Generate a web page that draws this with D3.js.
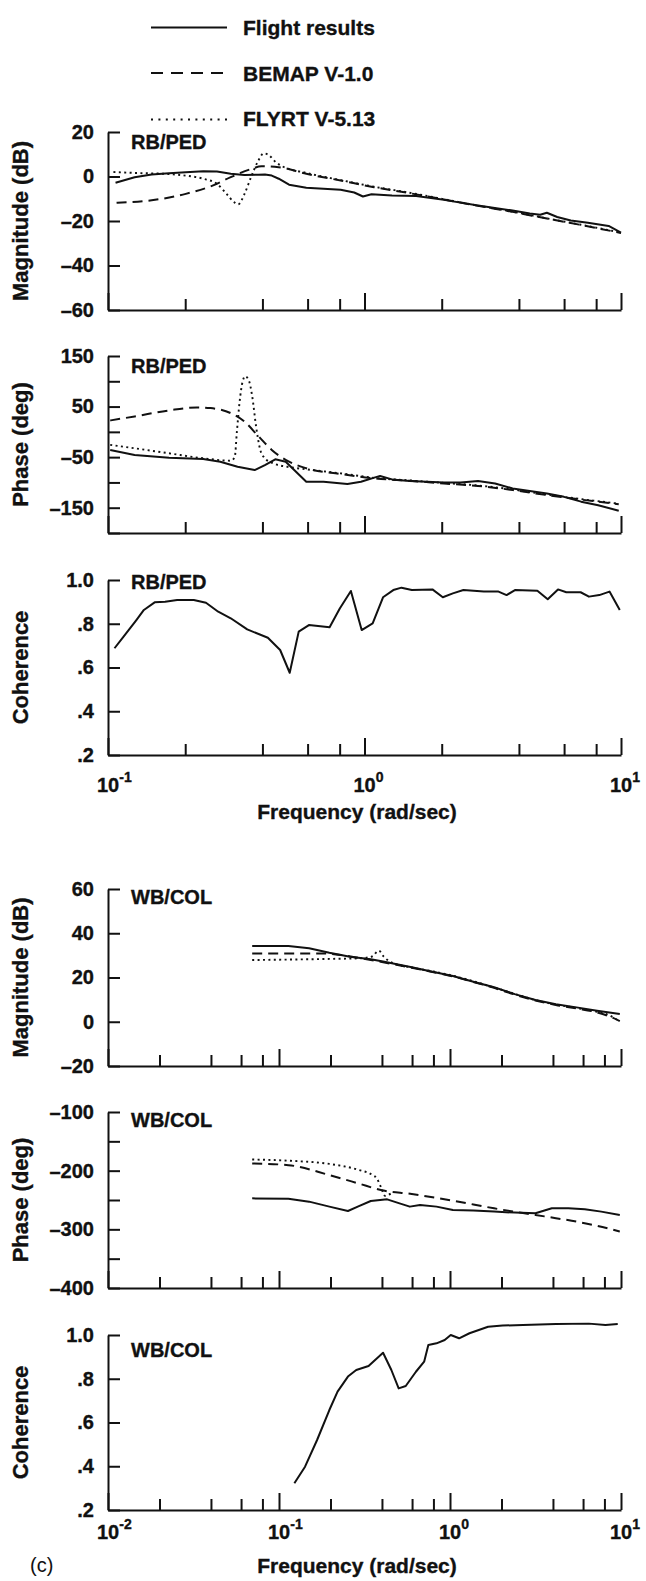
<!DOCTYPE html>
<html>
<head>
<meta charset="utf-8">
<script src="https://cdn.jsdelivr.net/npm/d3@7"></script>
<style>
  html, body { margin: 0; padding: 0; background: #fff; }
  svg { display: block; }
</style>
</head>
<body>
<svg id="chart" width="646" height="1581"></svg>
<script>
// ---------- frequency ranges (rad/sec) ----------
const topFreqDomain = [0.1, 10];
const bottomFreqDomain = [0.01, 10];

// ---------- legend ----------
const seriesNames = ["Flight results", "BEMAP V-1.0", "FLYRT V-5.13"];

// ---------- RB/PED : magnitude (dB) ----------
const rbMagFlight = [[0.107,-2.8],[0.127,-0.3],[0.148,0.9],[0.173,1.5],[0.201,1.9],[0.235,2.4],[0.266,2.2],[0.301,1.2],[0.340,0.7],[0.385,0.8],[0.409,0.9],[0.435,0.4],[0.463,-1.0],[0.508,-3.7],[0.593,-5.1],[0.692,-5.5],[0.807,-6.0],[0.912,-7.2],[0.986,-9.0],[1.065,-8.0],[1.28,-8.5],[1.59,-8.8],[2.04,-10.5],[2.77,-13.0],[3.78,-15.3],[4.41,-16.6],[4.84,-17.2],[5.14,-16.3],[5.64,-18.2],[6.37,-19.8],[7.43,-20.8],[8.95,-22.2],[10,-25.2]];
const rbMagBemap = [[0.108,-11.8],[0.148,-10.7],[0.201,-7.8],[0.257,-4.0],[0.301,-0.3],[0.362,3.4],[0.397,4.6],[0.463,4.2],[0.593,1.2],[0.807,-1.8],[1.09,-4.8],[1.50,-7.5],[2.04,-10.3],[2.77,-13.2],[3.78,-15.9],[5.14,-18.9],[6.99,-21.8],[10,-25.4]];
const rbMagFlyrt = [[0.105,2.0],[0.127,1.6],[0.173,1.1],[0.201,0.4],[0.235,-1.0],[0.266,-3.3],[0.290,-7.8],[0.310,-11.5],[0.322,-12.5],[0.340,-8.0],[0.362,0.0],[0.385,7.0],[0.405,10.4],[0.425,9.5],[0.450,6.5],[0.480,4.5],[0.593,1.6],[0.807,-1.6],[1.09,-4.6],[1.50,-7.3],[2.04,-10.2],[2.77,-13.1],[3.78,-15.8],[5.14,-18.8],[6.99,-21.7],[10,-25.2]];

// ---------- RB/PED : phase (deg) ----------
const rbPhaseFlight = [[0.102,-35.8],[0.127,-45.7],[0.173,-51],[0.235,-53.6],[0.274,-59],[0.320,-69],[0.373,-75.5],[0.409,-65.6],[0.449,-54.3],[0.493,-59],[0.593,-98.7],[0.692,-98.7],[0.858,-103],[0.969,-98.7],[1.10,-90],[1.15,-87.4],[1.28,-94],[1.50,-97.4],[2.04,-100],[2.37,-100],[2.77,-97.4],[3.23,-102],[3.78,-112],[5.14,-122],[5.99,-128.5],[6.99,-138],[8.15,-145],[9.8,-156]];
const rbPhaseBemap = [[0.102,22.5],[0.127,30.5],[0.173,42.4],[0.222,48.3],[0.251,47],[0.301,37],[0.340,20.5],[0.385,-8],[0.435,-35.8],[0.508,-59],[0.593,-72],[0.807,-83.4],[1.09,-92],[1.50,-96.7],[2.04,-102],[2.77,-107],[3.78,-115],[5.14,-125],[6.99,-134],[9.8,-143]];
const rbPhaseFlyrt = [[0.102,-25.8],[0.127,-32.5],[0.173,-42.4],[0.235,-52.3],[0.301,-57],[0.312,-50],[0.318,0],[0.326,60],[0.335,100],[0.343,110],[0.355,100],[0.365,70],[0.378,10],[0.392,-35],[0.405,-50],[0.44,-62],[0.50,-69],[0.593,-74],[0.807,-82],[1.09,-91],[1.50,-96],[2.04,-101],[2.77,-106],[3.78,-114],[5.14,-124],[6.99,-133],[9.8,-142]];

// ---------- RB/PED : coherence ----------
const rbCohFlight = [[0.106,0.688],[0.115,0.741],[0.129,0.817],[0.138,0.863],[0.152,0.898],[0.167,0.901],[0.186,0.909],[0.216,0.909],[0.241,0.896],[0.269,0.855],[0.301,0.825],[0.349,0.774],[0.420,0.736],[0.469,0.680],[0.511,0.576],[0.554,0.764],[0.607,0.794],[0.731,0.784],[0.801,0.870],[0.885,0.950],[0.975,0.771],[1.076,0.802],[1.181,0.921],[1.295,0.954],[1.394,0.965],[1.530,0.954],[1.84,0.957],[2.02,0.921],[2.21,0.939],[2.43,0.954],[2.92,0.947],[3.33,0.947],[3.58,0.931],[3.86,0.954],[4.72,0.951],[5.18,0.912],[5.68,0.957],[6.12,0.944],[6.96,0.944],[7.50,0.924],[8.23,0.931],[9.02,0.947],[9.89,0.863]];

// ---------- WB/COL : magnitude (dB) ----------
const wbMagFlight = [[0.0697,34.2],[0.1135,34.2],[0.150,33.2],[0.197,31.2],[0.26,29.4],[0.344,28.2],[0.406,27.2],[0.598,24.6],[0.789,22.6],[1.04,20.7],[1.37,18.1],[1.81,15.6],[2.39,12.5],[3.16,9.8],[4.16,7.9],[5.49,6.5],[7.25,5.0],[9.84,3.5]];
const wbMagBemap = [[0.0697,30.9],[0.1135,30.9],[0.177,30.9],[0.23,30.2],[0.30,28.7],[0.40,27.0],[0.598,24.4],[0.789,22.5],[1.04,20.5],[1.37,18.0],[1.81,15.3],[2.39,12.3],[3.16,9.6],[4.16,7.6],[5.49,6.0],[7.25,4.2],[8.5,2.5],[9.84,0.3]];
const wbMagFlyrt = [[0.0697,27.9],[0.197,28.4],[0.30,28.7],[0.35,29.5],[0.384,32.1],[0.41,29.4],[0.45,27.0],[0.598,24.5],[0.789,22.8],[1.04,20.8],[1.37,18.3],[1.81,15.5],[2.39,12.6],[3.16,9.8],[4.16,7.8],[5.49,6.2],[7.25,4.5],[8.5,3.0],[9.84,0.0]];

// ---------- WB/COL : phase (deg) ----------
const wbPhaseFlight = [[0.0697,-247.2],[0.1135,-248],[0.150,-252.8],[0.197,-261.3],[0.253,-268.7],[0.291,-261],[0.344,-251.7],[0.429,-248.9],[0.507,-255.7],[0.582,-261.3],[0.668,-258.5],[0.834,-261.3],[1.04,-267],[1.37,-268],[1.81,-269.8],[2.39,-271.5],[3.16,-272.6],[3.94,-264],[4.92,-264],[6.14,-265.8],[7.67,-269.8],[9.84,-275.5]];
const wbPhaseBemap = [[0.0697,-187.7],[0.1135,-190.6],[0.197,-207.5],[0.291,-221.7],[0.394,-233],[0.598,-239.8],[1.04,-251.1],[1.81,-264.2],[3.16,-275.5],[4.16,-281],[5.49,-286.8],[7.25,-294],[9.84,-303.8]];
const wbPhaseFlyrt = [[0.0697,-181],[0.1135,-183],[0.197,-188.5],[0.291,-198.5],[0.353,-207.5],[0.373,-213],[0.394,-227.4],[0.417,-243],[0.45,-239]];

// ---------- WB/COL : coherence ----------
const wbCohFlight = [[0.123,0.322],[0.142,0.398],[0.167,0.520],[0.197,0.657],[0.220,0.741],[0.253,0.810],[0.283,0.840],[0.334,0.858],[0.406,0.919],[0.454,0.840],[0.501,0.756],[0.551,0.767],[0.632,0.832],[0.706,0.878],[0.747,0.954],[0.834,0.962],[0.931,0.977],[1.01,1.0],[1.13,0.985],[1.30,1.008],[1.67,1.038],[2.03,1.043],[2.67,1.046],[4.17,1.050],[6.49,1.052],[8.11,1.046],[9.57,1.050]];

// ---------- axis ticks ----------
const magTicksRB = [20, 0, -20, -40, -60];
const phaseTicksRB = [150, 100, 50, 0, -50, -100, -150, -200];
const phaseLabelsRB = [150, 50, -50, -150];
const cohTicks = [1.0, 0.8, 0.6, 0.4, 0.2];
const magTicksWB = [60, 40, 20, 0, -20];
const phaseTicksWB = [-100, -150, -200, -250, -300, -350, -400];
const phaseLabelsWB = [-100, -200, -300, -400];
const minorMultipliers = [2, 4, 6, 8];

// ---------- drawing ----------
const FONT = '"Liberation Sans", Arial, Helvetica, sans-serif';
const INK = "#111";
const svg = d3.select("#chart");

const X0 = 108, X1 = 621;
const xTop = d3.scaleLog().domain(topFreqDomain).range([X0, X1]);
const xBot = d3.scaleLog().domain(bottomFreqDomain).range([X0, X1]);

const fmtNum = d => d < 0 ? "\u2013" + (-d) : String(d);
const fmtCoh = d => d >= 1 ? "1.0" : "." + Math.round(d * 10);

const styles = {
  solid: { dash: null, width: 2, curve: d3.curveLinear },
  dash:  { dash: "10,6", width: 2, curve: d3.curveMonotoneX },
  dot:   { dash: "2,3.4", width: 1.9, curve: d3.curveMonotoneX }
};

// bold text helper: slightly heavier strokes like the printed lettering
function boldText(sel, size) {
  return sel.attr("font-family", FONT).attr("font-size", size).attr("font-weight", "bold")
    .attr("fill", INK).attr("stroke", INK).attr("stroke-width", 0.35);
}

const panels = [
  { x: xTop, top: 132, bottom: 310, domain: [-60, 20], ticks: magTicksRB, labels: magTicksRB, fmt: fmtNum,
    title: "Magnitude (dB)", tag: "RB/PED", tagDy: 17,
    series: [[rbMagFlight, "solid"], [rbMagBemap, "dash"], [rbMagFlyrt, "dot"]] },
  { x: xTop, top: 356, bottom: 533, domain: [-200, 150], ticks: phaseTicksRB, labels: phaseLabelsRB, fmt: fmtNum,
    title: "Phase (deg)", tag: "RB/PED", tagDy: 17,
    series: [[rbPhaseFlight, "solid"], [rbPhaseBemap, "dash"], [rbPhaseFlyrt, "dot"]] },
  { x: xTop, top: 580, bottom: 755, domain: [0.2, 1.0], ticks: cohTicks, labels: cohTicks, fmt: fmtCoh,
    title: "Coherence", tag: "RB/PED", tagDy: 9, xLabels: true, labelDy: 37, titleY: 819, decades: [0.1, 1, 10],
    series: [[rbCohFlight, "solid"]] },
  { x: xBot, top: 889, bottom: 1066, domain: [-20, 60], ticks: magTicksWB, labels: magTicksWB, fmt: fmtNum,
    title: "Magnitude (dB)", tag: "WB/COL", tagDy: 15,
    series: [[wbMagFlight, "solid"], [wbMagBemap, "dash"], [wbMagFlyrt, "dot"]] },
  { x: xBot, top: 1112, bottom: 1288, domain: [-400, -100], ticks: phaseTicksWB, labels: phaseLabelsWB, fmt: fmtNum,
    title: "Phase (deg)", tag: "WB/COL", tagDy: 15,
    series: [[wbPhaseFlight, "solid"], [wbPhaseBemap, "dash"], [wbPhaseFlyrt, "dot"]] },
  { x: xBot, top: 1335, bottom: 1510, domain: [0.2, 1.0], ticks: cohTicks, labels: cohTicks, fmt: fmtCoh,
    title: "Coherence", tag: "WB/COL", tagDy: 22, xLabels: true, labelDy: 29, titleY: 1573, decades: [0.01, 0.1, 1, 10],
    series: [[wbCohFlight, "solid"]] }
];

function styleAxis(g) {
  g.attr("font-family", FONT).attr("font-size", 20).attr("font-weight", "bold");
  g.selectAll("path.domain").attr("stroke", INK).attr("stroke-width", 2);
  g.selectAll(".tick line").attr("stroke", INK).attr("stroke-width", 2);
  g.selectAll(".tick text").attr("fill", INK).attr("stroke", INK).attr("stroke-width", 0.35);
}

panels.forEach(p => {
  const y = d3.scaleLinear().domain(p.domain).range([p.bottom, p.top]);
  const dom = p.x.domain();
  const decades = d3.range(Math.round(Math.log10(dom[0])), Math.round(Math.log10(dom[1])) + 1).map(e => Math.pow(10, e));
  const minors = [];
  decades.slice(0, -1).forEach(d => minorMultipliers.forEach(m => minors.push(d * m)));

  // data curves
  p.series.forEach(([data, kind]) => {
    const st = styles[kind];
    const line = d3.line().x(d => p.x(d[0])).y(d => y(d[1])).curve(st.curve);
    svg.append("path")
      .datum(data)
      .attr("d", line)
      .attr("fill", "none")
      .attr("stroke", INK)
      .attr("stroke-width", st.width)
      .attr("stroke-linejoin", "round")
      .attr("stroke-dasharray", st.dash);
  });

  // left axis with inward ticks
  const gy = svg.append("g")
    .attr("transform", `translate(${X0},0)`)
    .call(d3.axisLeft(y).tickValues(p.ticks).tickSize(-12).tickSizeOuter(0).tickPadding(14)
      .tickFormat(d => p.labels.includes(d) ? p.fmt(d) : ""));
  styleAxis(gy);

  // bottom axis: major decade ticks and minor 2-4-6-8 ticks, pointing up
  const gxMajor = svg.append("g")
    .attr("transform", `translate(0,${p.bottom})`)
    .call(d3.axisBottom(p.x).tickValues(decades).tickSize(-17).tickSizeOuter(0).tickFormat(""));
  styleAxis(gxMajor);
  const gxMinor = svg.append("g")
    .attr("transform", `translate(0,${p.bottom})`)
    .call(d3.axisBottom(p.x).tickValues(minors).tickSize(-11).tickSizeOuter(0).tickFormat(""));
  styleAxis(gxMinor);
  gxMinor.select("path.domain").remove();

  // panel tag
  boldText(svg.append("text").attr("x", 131).attr("y", p.top + p.tagDy), 20).text(p.tag);

  // rotated y title
  const midY = (p.top + p.bottom) / 2;
  boldText(svg.append("text")
    .attr("transform", `translate(28,${midY}) rotate(-90)`)
    .attr("text-anchor", "middle"), 22)
    .text(p.title);

  // decade labels 10^n and frequency title
  if (p.xLabels) {
    p.decades.forEach(d => {
      const t = boldText(svg.append("text")
        .attr("x", p.x(d) - 11).attr("y", p.bottom + p.labelDy), 20);
      t.append("tspan").text("10");
      t.append("tspan").attr("dy", -10).attr("font-size", 14).text(String(Math.round(Math.log10(d))));
    });
    boldText(svg.append("text")
      .attr("x", 357).attr("y", p.titleY)
      .attr("text-anchor", "middle"), 21)
      .text("Frequency (rad/sec)");
  }
});

// figure part label
svg.append("text")
  .attr("x", 30).attr("y", 1572)
  .attr("font-family", FONT).attr("font-size", 20).attr("fill", INK)
  .text("(c)");

// legend
const legendRows = [
  { name: seriesNames[0], y: 35, ly: 27.5, dash: null },
  { name: seriesNames[1], y: 80.5, ly: 73, dash: "12,8" },
  { name: seriesNames[2], y: 126, ly: 119.5, dash: "2,5.4" }
];
const lg = svg.append("g");
lg.selectAll("line").data(legendRows).join("line")
  .attr("x1", 151).attr("x2", 227)
  .attr("y1", d => d.ly).attr("y2", d => d.ly)
  .attr("stroke", INK).attr("stroke-width", 2)
  .attr("stroke-dasharray", d => d.dash);
boldText(lg.selectAll("text").data(legendRows).join("text")
  .attr("x", 243).attr("y", d => d.y), 21)
  .text(d => d.name);
</script>
</body>
</html>
